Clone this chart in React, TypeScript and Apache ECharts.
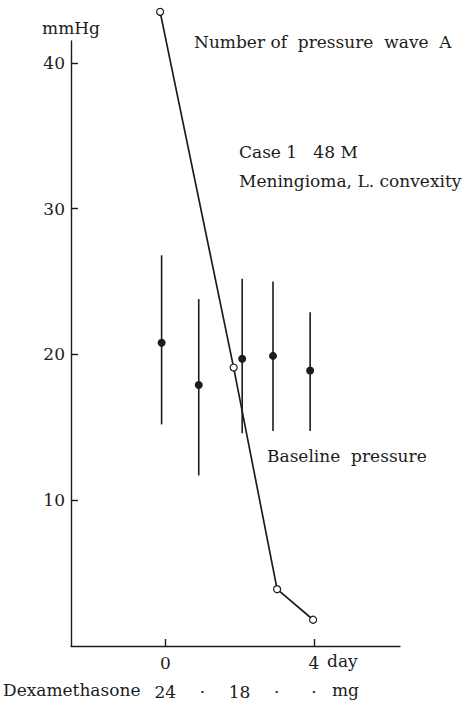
import React, { useEffect, useRef } from "react";
import * as echarts from "echarts";

// Baseline pressure (mean and range), mmHg
const baselineDays = [-0.1, 0.9, 2.07, 2.9, 3.9];
const baselineMean = [20.8, 17.9, 19.7, 19.9, 18.9];
const baselineLow = [15.2, 11.7, 14.6, 14.75, 14.75];
const baselineHigh = [26.8, 23.8, 25.2, 25.0, 22.9];

// Number of pressure wave A
const waveDays = [-0.14, 1.84, 3.01, 3.98];
const waveCounts = [43.5, 19.1, 3.9, 1.8];

// Axis ticks
const yTicks = [10, 20, 30, 40];
const xTicks = [0, 4];

// Dexamethasone dose row
const doseDays = [0, 1, 2, 3, 4];
const doseLabels = ["24", "·", "18", "·", "·"];

const FONT = "DejaVu Serif";
const FS = 17;
const INK = "#1c1c1c";

export default function App() {
  const ref = useRef<HTMLDivElement>(null);

  useEffect(() => {
    if (!ref.current) return;
    const chart = echarts.init(ref.current, null, { renderer: "svg" });

    const textStyle = { fontFamily: FONT, fontSize: FS, fill: INK };

    chart.setOption({
      animation: false,
      backgroundColor: "#ffffff",
      grid: { left: 71, right: 64, top: 41, bottom: 57 },
      xAxis: [
        {
          type: "value",
          min: -2.54,
          max: 6.32,
          axisLine: { show: true, onZero: false, lineStyle: { color: INK, width: 1.4 } },
          axisTick: {
            show: true,
            inside: true,
            length: 7,
            customValues: xTicks,
            lineStyle: { color: INK, width: 1.4 },
          },
          axisLabel: {
            customValues: xTicks,
            margin: 8,
            fontFamily: FONT,
            fontSize: FS,
            color: INK,
          },
          splitLine: { show: false },
        },
        {
          type: "value",
          position: "bottom",
          offset: 29,
          min: -2.54,
          max: 6.32,
          axisLine: { show: false, onZero: false },
          axisTick: { show: false },
          axisLabel: {
            customValues: doseDays,
            margin: 8,
            formatter: (v: number) => {
              const i = doseDays.indexOf(Math.round(v));
              return i >= 0 ? doseLabels[i] : "";
            },
            fontFamily: FONT,
            fontSize: FS,
            color: INK,
          },
          splitLine: { show: false },
        },
      ],
      yAxis: {
        type: "value",
        min: 0,
        max: 41.5,
        name: "mmHg",
        nameLocation: "end",
        nameGap: 5,
        nameTextStyle: { fontFamily: FONT, fontSize: FS, color: INK, align: "center" },
        axisLine: { show: true, onZero: false, lineStyle: { color: INK, width: 1.4 } },
        axisTick: {
          show: true,
          inside: true,
          length: 7,
          customValues: yTicks,
          lineStyle: { color: INK, width: 1.4 },
        },
        axisLabel: {
          customValues: yTicks,
          margin: 6,
          fontFamily: FONT,
          fontSize: FS,
          color: INK,
        },
        splitLine: { show: false },
      },
      graphic: [
        { type: "text", left: 194, top: 33, style: { ...textStyle, text: "Number of  pressure  wave  A" } },
        { type: "text", left: 239, top: 143, style: { ...textStyle, text: "Case 1   48 M" } },
        { type: "text", left: 239, top: 172, style: { ...textStyle, text: "Meningioma, L. convexity" } },
        { type: "text", left: 267, top: 447, style: { ...textStyle, text: "Baseline  pressure" } },
        { type: "text", left: 327, top: 652, style: { ...textStyle, text: "day" } },
        { type: "text", left: 3, top: 681, style: { ...textStyle, text: "Dexamethasone" } },
        { type: "text", left: 332, top: 681, style: { ...textStyle, text: "mg" } },
      ],
      series: [
        {
          type: "custom",
          name: "Baseline range",
          clip: false,
          data: baselineDays.map((d, i) => [d, baselineLow[i], baselineHigh[i]]),
          renderItem: (_params: any, api: any) => {
            const lo = api.coord([api.value(0), api.value(1)]);
            const hi = api.coord([api.value(0), api.value(2)]);
            return {
              type: "line",
              shape: { x1: lo[0], y1: lo[1], x2: hi[0], y2: hi[1] },
              style: { stroke: INK, lineWidth: 1.6 },
            };
          },
          z: 2,
        },
        {
          type: "scatter",
          name: "Baseline pressure",
          data: baselineDays.map((d, i) => [d, baselineMean[i]]),
          symbol: "circle",
          symbolSize: 8,
          itemStyle: { color: INK, opacity: 1 },
          z: 3,
        },
        {
          type: "line",
          name: "Number of pressure wave A",
          clip: false,
          data: waveDays.map((d, i) => [d, waveCounts[i]]),
          symbol: "circle",
          symbolSize: 7,
          showAllSymbol: true,
          lineStyle: { color: INK, width: 1.7 },
          itemStyle: { color: "#ffffff", borderColor: INK, borderWidth: 1.2 },
          z: 4,
        },
      ],
    });

    return () => chart.dispose();
  }, []);

  return (
    <div
      ref={ref}
      style={{ position: "fixed", left: 0, top: 0, width: 464, height: 703, background: "#fff" }}
    />
  );
}
